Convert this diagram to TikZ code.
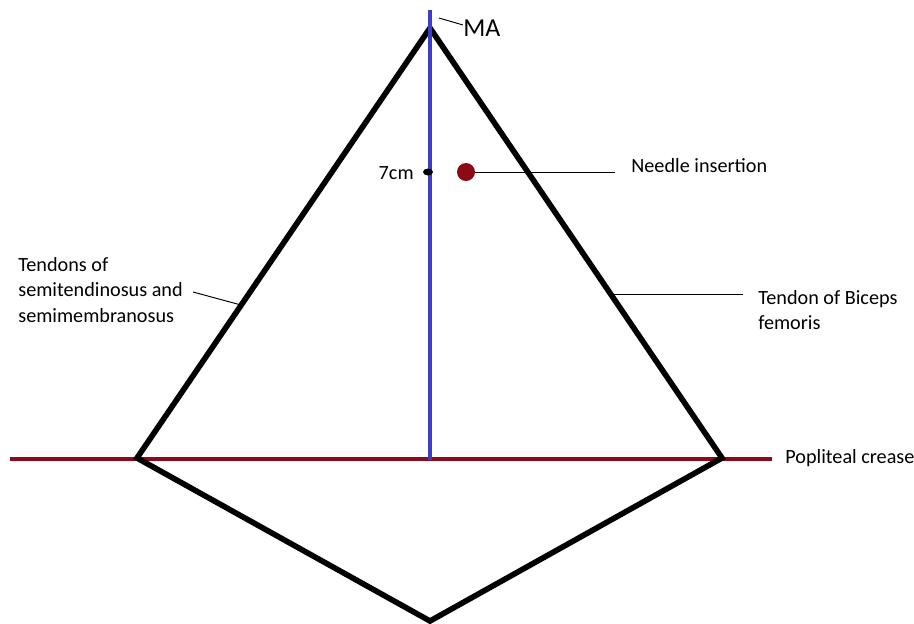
\documentclass[tikz,border=0pt]{standalone}
\usepackage{fontspec}
\setmainfont{Carlito}
\usetikzlibrary{positioning,calc}
\definecolor{CreaseRed}{HTML}{8B0A1E}
\definecolor{NeedleRed}{HTML}{8B0A14}
\definecolor{AxisBlue}{HTML}{3C3CC8}
\tikzset{
    % Tendon outline
    tendonline/.style={
        line width=3.2pt,
        draw=black,
        line join=miter
    },
    % Mid axis
    axisline/.style={
        line width=2.2pt,
        draw=AxisBlue
    },
    % Crease line
    creaseline/.style={
        line width=1.9pt,
        draw=CreaseRed
    },
    % Leader line
    leader/.style={
        line width=0.55pt,
        draw=black
    },
    % Label text
    labeltext/.style={
        inner sep=0pt,
        align=left,
        font=\fontsize{11.5}{14.7}\selectfont
    }
}

\begin{document}
\begin{tikzpicture}[x=0.02cm, y=-0.02cm]
    \useasboundingbox (0,0) rectangle (914,623);

    % key points
    \coordinate (apex) at (430,28);
    \coordinate (lbase) at (137,458);
    \coordinate (rbase) at (722,458);
    \coordinate (bottom) at (430,621);
    \coordinate (axtop) at (430,10);
    \coordinate (axbot) at (430,460);
    \coordinate (crleft) at (10,459);
    \coordinate (crright) at (772,459);
    \coordinate (mark) at (428,172);
    \coordinate (ltendon) at (241,305);
    \coordinate (rtendon) at (611,294);

    % labels
    \node[labeltext, anchor=west, font=\fontsize{14.7}{17}\selectfont] (ma) at (463,28) {MA};
    \node[labeltext, anchor=east] (seven) at (414,173) {7cm};
    \node[labeltext, anchor=west] (needle) at (631,166) {Needle insertion};
    \node[labeltext, anchor=west] (semi) at (18,290) {Tendons of\\semitendinosus and\\semimembranosus};
    \node[labeltext, anchor=west] (biceps) at (758,310) {Tendon of Biceps\\femoris};
    \node[labeltext, anchor=west] (crease) at (785,458) {Popliteal crease};

    % leaders
    \draw[leader] (ma.west) ++(0,-3) -- (439,18);
    \draw[leader] ($(semi.east)+(10,2)$) -- (ltendon);
    \draw[leader] (rtendon) -- ($(biceps.west)+(-15,-16)$);

    % crease and tendons
    \draw[creaseline] (crleft) -- (crright);
    \draw[tendonline] (lbase) -- (apex) -- (rbase) -- (bottom) -- cycle;
    \draw[axisline] (axtop) -- (axbot);

    % 7cm mark and needle point
    \fill[black] (mark) ellipse [x radius=5, y radius=3.5];
    \node[circle, fill=NeedleRed, inner sep=0pt, minimum size=18*0.02cm] (needlept) at (466,172) {};
    \draw[leader] (needlept.east) -- ($(needle.west)+(-16,6)$);
\end{tikzpicture}
\end{document}
